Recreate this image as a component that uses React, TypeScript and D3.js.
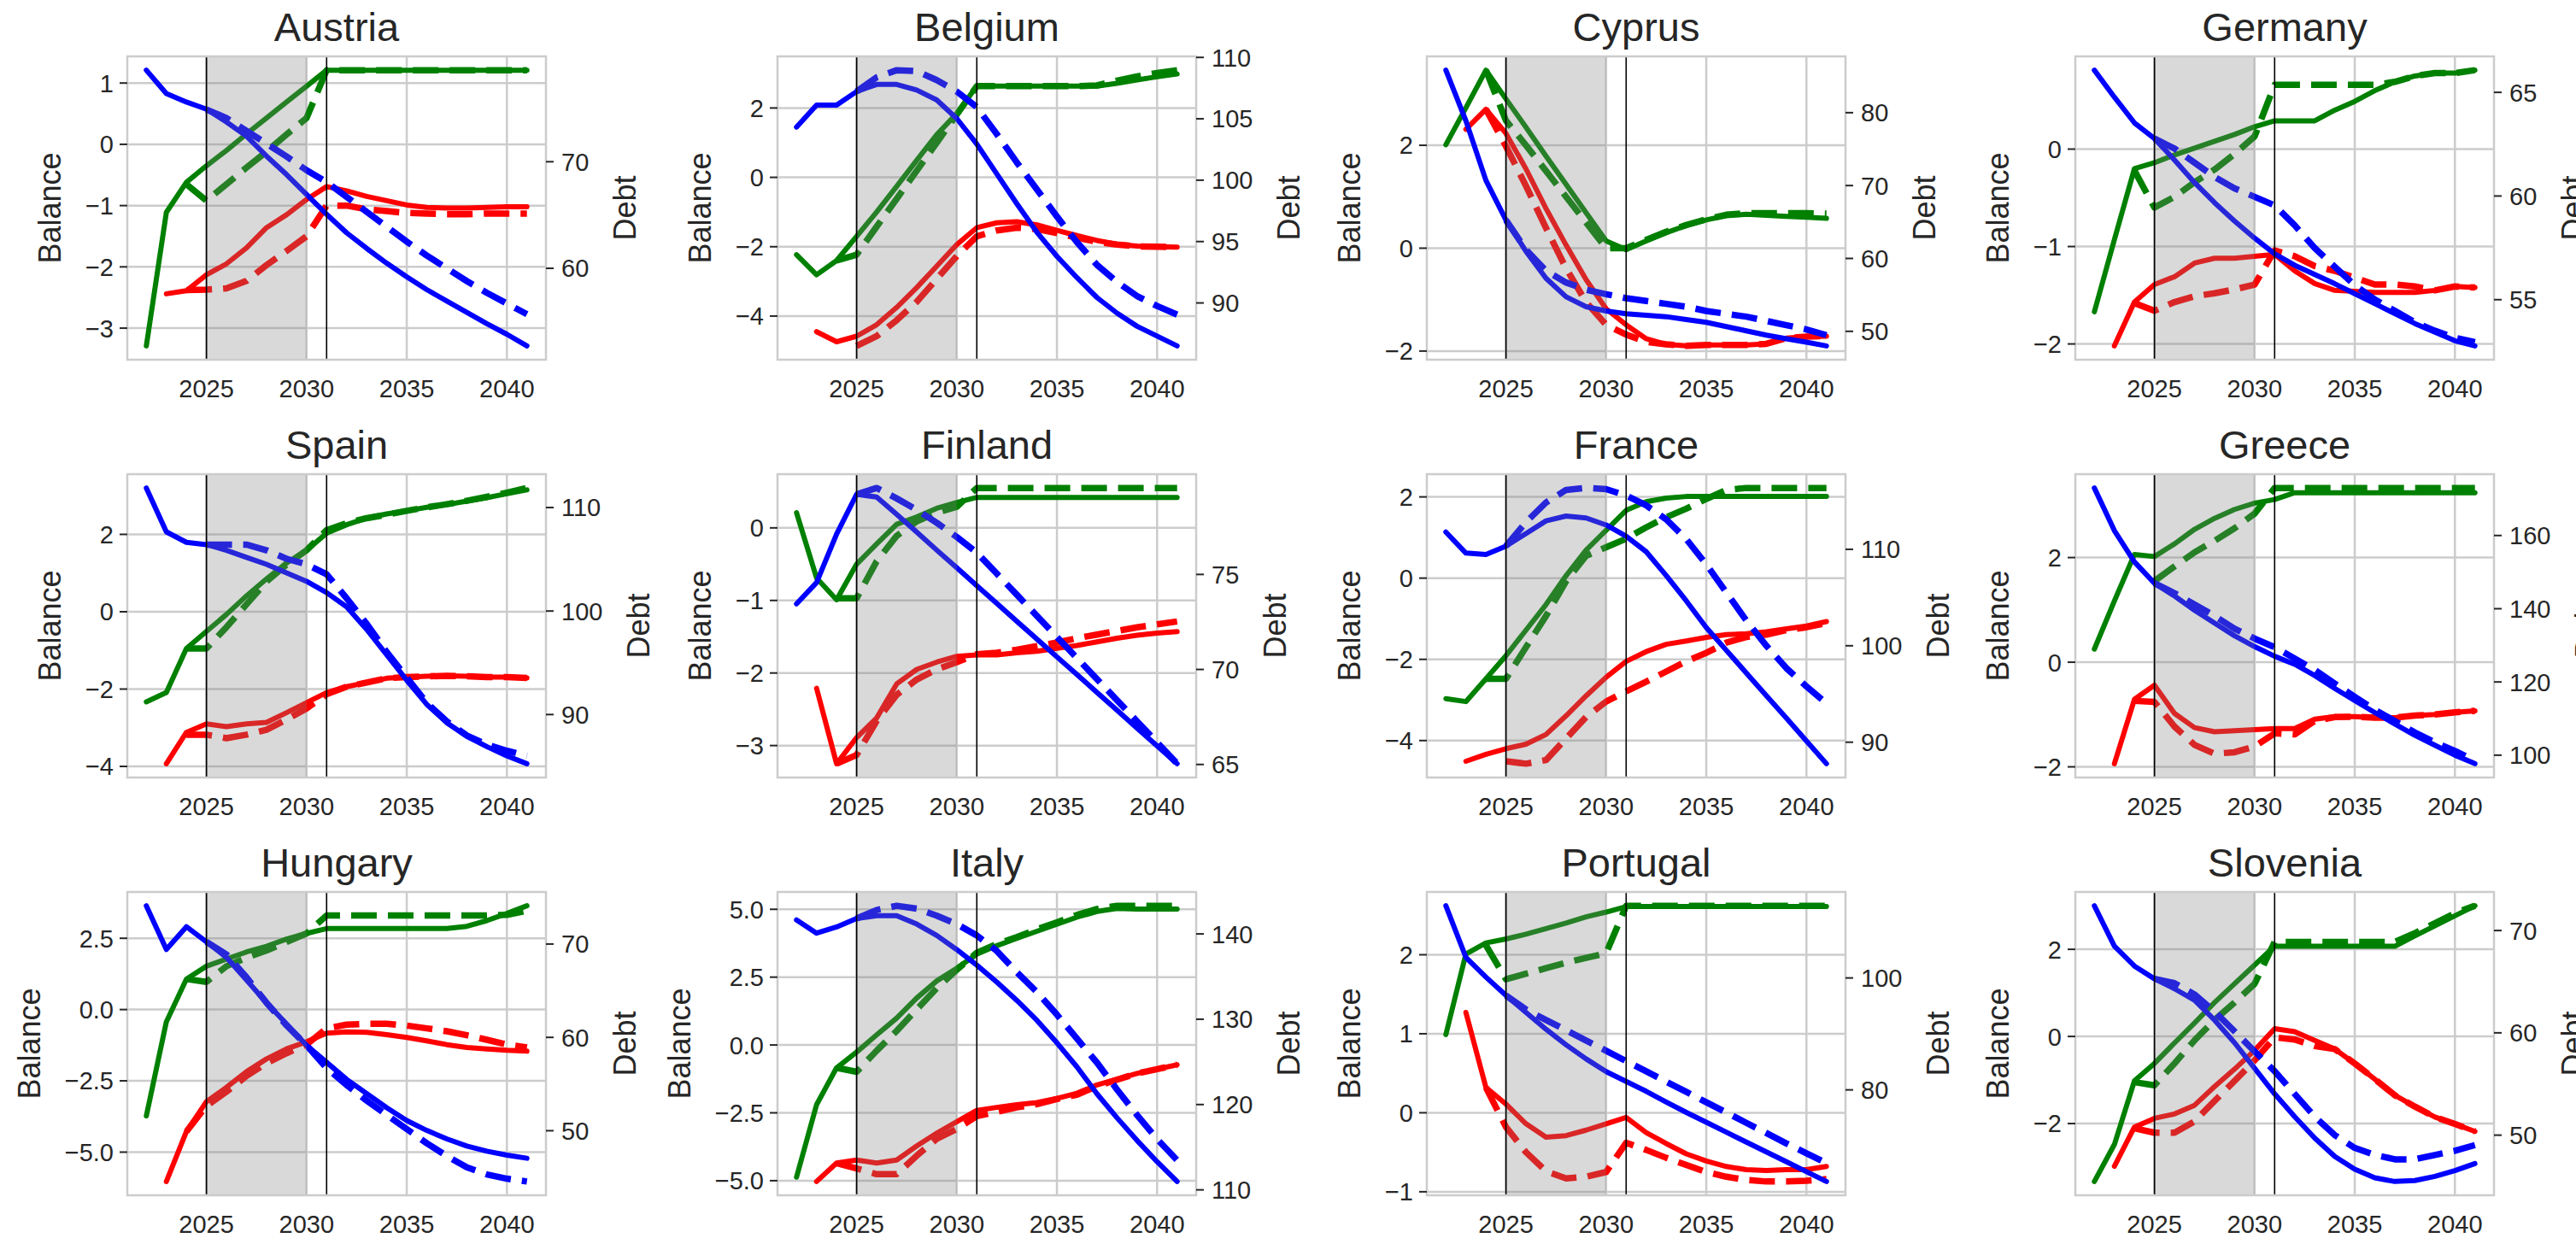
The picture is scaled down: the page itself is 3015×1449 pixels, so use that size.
import * as d3 from "d3";

// years on the x axis
const YEARS = [2022, 2023, 2024, 2025, 2026, 2027, 2028, 2029, 2030, 2031, 2032, 2033, 2034, 2035, 2036, 2037, 2038, 2039, 2040, 2041];
const X_TICKS = [2025, 2030, 2035, 2040];
const SHADE = [2025, 2030];
const MARKERS = [2025, 2031];

const COUNTRIES = ["Austria", "Belgium", "Cyprus", "Germany", "Spain", "Finland", "France", "Greece", "Hungary", "Italy", "Portugal", "Slovenia"];

const LEFT_TICKS = [
  [-3, -2, -1, 0, 1], [-4, -2, 0, 2], [-2, 0, 2], [-2, -1, 0],
  [-4, -2, 0, 2], [-3, -2, -1, 0], [-4, -2, 0, 2], [-2, 0, 2],
  [-5, -2.5, 0, 2.5], [-5, -2.5, 0, 2.5, 5], [-1, 0, 1, 2], [-2, 0, 2],
];
const LEFT_DECIMALS = [0, 0, 0, 0, 0, 0, 0, 0, 1, 1, 0, 0];
const RIGHT_TICKS = [
  [60, 70], [90, 95, 100, 105, 110], [50, 60, 70, 80], [55, 60, 65],
  [90, 100, 110], [65, 70, 75], [90, 100, 110], [100, 120, 140, 160],
  [50, 60, 70], [110, 120, 130, 140], [80, 100], [50, 60, 70],
];

const _ = null;

// Austria
const atPrimary = [-3.29, -1.11, -0.62, -0.35, -0.1, 0.17, 0.43, 0.69, 0.95, 1.21, 1.21, 1.21, 1.21, 1.21, 1.21, 1.21, 1.21, 1.21, 1.21, 1.21];
const atPrimaryAlt = [_, _, -0.65, -0.92, -0.65, -0.38, -0.12, 0.16, 0.43, 1.21, 1.21, 1.21, 1.21, 1.21, 1.21, 1.21, 1.21, 1.21, 1.21, 1.21];
const atBalance = [_, -2.44, -2.39, -2.13, -1.95, -1.69, -1.36, -1.15, -0.9, -0.69, -0.76, -0.85, -0.92, -0.99, -1.03, -1.04, -1.04, -1.03, -1.02, -1.02];
const atBalanceAlt = [_, _, -2.38, -2.37, -2.35, -2.23, -1.97, -1.74, -1.5, -1.0, -1.0, -1.06, -1.09, -1.12, -1.13, -1.14, -1.14, -1.13, -1.13, -1.13];
const atDebt = [78.59, 76.4, 75.6, 74.93, 73.73, 72.4, 70.53, 68.8, 66.93, 65.07, 63.33, 61.87, 60.48, 59.2, 58.0, 56.93, 55.87, 54.8, 53.81, 52.72];
const atDebtAlt = [_, _, _, 74.9, 74.1, 72.9, 71.7, 70.5, 69.2, 68.1, 66.7, 65.3, 63.9, 62.5, 61.2, 60.0, 58.8, 57.7, 56.7, 55.7];

// Belgium
const bePrimary = [-2.23, -2.81, -2.4, -1.7, -1.0, -0.26, 0.49, 1.23, 1.84, 2.63, 2.63, 2.63, 2.63, 2.63, 2.63, 2.63, 2.71, 2.81, 2.9, 2.98];
const bePrimaryAlt = [_, _, -2.4, -2.23, -1.42, -0.62, 0.19, 1.0, 1.81, 2.63, 2.63, 2.63, 2.63, 2.63, 2.63, 2.65, 2.79, 2.91, 3.01, 3.09];
const beBalance = [_, -4.45, -4.74, -4.58, -4.25, -3.75, -3.18, -2.56, -1.94, -1.45, -1.31, -1.28, -1.37, -1.53, -1.68, -1.82, -1.93, -1.98, -2.0, -2.01];
const beBalanceAlt = [_, _, _, -4.86, -4.58, -4.12, -3.59, -2.93, -2.27, -1.7, -1.53, -1.45, -1.49, -1.61, -1.74, -1.86, -1.94, -1.99, -2.0, -2.01];
const beDebt = [104.33, 106.11, 106.11, 107.22, 107.8, 107.8, 107.34, 106.53, 105.02, 102.94, 100.51, 98.08, 95.76, 93.8, 92.06, 90.44, 89.17, 88.1, 87.3, 86.5];
const beDebtAlt = [_, _, _, 107.22, 108.38, 108.96, 108.89, 108.15, 107.22, 105.95, 103.75, 101.44, 99.24, 97.04, 94.95, 93.1, 91.71, 90.56, 89.75, 89.05];

// Cyprus
const cyPrimary = [2.01, 2.73, 3.46, 2.9, 2.35, 1.79, 1.24, 0.69, 0.14, -0.03, 0.14, 0.3, 0.44, 0.55, 0.63, 0.66, 0.64, 0.62, 0.6, 0.58];
const cyPrimaryAlt = [_, _, 3.46, 2.48, 2.0, 1.5, 1.0, 0.5, 0.0, 0.0, 0.16, 0.32, 0.45, 0.56, 0.65, 0.68, 0.68, 0.68, 0.68, 0.67];
const cyBalance = [_, 2.31, 2.7, 2.23, 1.54, 0.77, 0.06, -0.61, -1.18, -1.49, -1.76, -1.87, -1.9, -1.88, -1.88, -1.88, -1.86, -1.75, -1.72, -1.71];
const cyBalanceAlt = [_, _, 2.7, 1.98, 1.21, 0.39, -0.39, -1.05, -1.49, -1.68, -1.82, -1.87, -1.9, -1.88, -1.88, -1.88, -1.86, -1.75, -1.72, -1.71];
const cyDebt = [85.83, 78.89, 70.71, 65.26, 60.97, 57.27, 54.74, 53.38, 52.79, 52.4, 52.21, 52.01, 51.62, 51.23, 50.65, 50.07, 49.48, 48.98, 48.51, 48.0];
const cyDebtAlt = [_, _, _, 65.26, 61.2, 58.3, 56.7, 55.7, 55.1, 54.55, 54.16, 53.77, 53.38, 52.79, 52.4, 52.01, 51.43, 50.85, 50.26, 49.48];

// Germany
const dePrimary = [-1.67, -0.93, -0.2, -0.14, -0.06, 0.01, 0.08, 0.15, 0.23, 0.29, 0.29, 0.29, 0.4, 0.49, 0.6, 0.69, 0.75, 0.78, 0.78, 0.81];
const dePrimaryAlt = [_, _, -0.22, -0.6, -0.49, -0.34, -0.21, -0.05, 0.13, 0.66, 0.66, 0.66, 0.66, 0.66, 0.66, 0.69, 0.75, 0.78, 0.78, 0.81];
const deBalance = [_, -2.02, -1.57, -1.39, -1.31, -1.17, -1.12, -1.12, -1.1, -1.08, -1.25, -1.38, -1.45, -1.46, -1.47, -1.47, -1.47, -1.45, -1.41, -1.42];
const deBalanceAlt = [_, _, -1.58, -1.66, -1.57, -1.51, -1.48, -1.44, -1.39, -1.04, -1.1, -1.2, -1.25, -1.32, -1.39, -1.39, -1.41, -1.45, -1.41, -1.42];
const deDebt = [66.07, 64.77, 63.53, 62.77, 61.74, 60.65, 59.68, 58.79, 57.97, 57.21, 56.66, 56.22, 55.77, 55.29, 54.81, 54.33, 53.85, 53.43, 53.02, 52.77];
const deDebtAlt = [_, _, _, 62.77, 62.29, 61.61, 60.92, 60.37, 59.96, 59.55, 58.59, 57.49, 56.59, 55.7, 55.01, 54.46, 53.91, 53.5, 53.16, 52.95];

// Spain
const esPrimary = [-2.33, -2.09, -0.95, -0.51, -0.07, 0.41, 0.85, 1.26, 1.59, 2.03, 2.25, 2.42, 2.53, 2.61, 2.7, 2.77, 2.86, 2.95, 3.05, 3.15];
const esPrimaryAlt = [_, _, -0.95, -0.95, -0.4, 0.19, 0.78, 1.22, 1.59, 2.11, 2.29, 2.42, 2.51, 2.61, 2.7, 2.78, 2.87, 2.97, 3.08, 3.2];
const esBalance = [_, -3.93, -3.12, -2.9, -2.97, -2.9, -2.86, -2.61, -2.35, -2.09, -1.94, -1.83, -1.72, -1.69, -1.67, -1.66, -1.67, -1.69, -1.69, -1.71];
const esBalanceAlt = [_, _, -3.18, -3.18, -3.27, -3.18, -3.05, -2.79, -2.5, -2.13, -1.94, -1.83, -1.72, -1.69, -1.67, -1.66, -1.67, -1.69, -1.69, -1.71];
const esDebt = [111.89, 107.65, 106.64, 106.42, 105.87, 105.19, 104.51, 103.69, 102.87, 101.78, 100.41, 98.22, 95.77, 93.31, 90.98, 89.21, 87.9, 86.9, 86.0, 85.25];
const esDebtAlt = [_, _, _, 106.42, 106.42, 106.42, 105.87, 105.05, 104.51, 103.55, 101.23, 98.77, 96.04, 93.58, 91.12, 89.34, 87.98, 87.1, 86.5, 86.0];

// Finland
const fiPrimary = [0.21, -0.69, -0.99, -0.5, -0.22, 0.05, 0.15, 0.27, 0.35, 0.42, 0.42, 0.42, 0.42, 0.42, 0.42, 0.42, 0.42, 0.42, 0.42, 0.42];
const fiPrimaryAlt = [_, _, -0.97, -0.97, -0.46, -0.11, 0.09, 0.21, 0.29, 0.55, 0.55, 0.55, 0.55, 0.55, 0.55, 0.55, 0.55, 0.55, 0.55, 0.55];
const fiBalance = [_, -2.21, -3.25, -2.89, -2.62, -2.15, -1.95, -1.85, -1.77, -1.75, -1.75, -1.72, -1.7, -1.66, -1.62, -1.57, -1.52, -1.48, -1.45, -1.43];
const fiBalanceAlt = [_, _, -3.25, -3.13, -2.66, -2.3, -2.09, -1.95, -1.85, -1.74, -1.72, -1.68, -1.63, -1.58, -1.52, -1.47, -1.42, -1.37, -1.33, -1.29];
const fiDebt = [73.45, 74.57, 77.12, 79.22, 79.07, 78.16, 77.23, 76.28, 75.35, 74.41, 73.48, 72.53, 71.6, 70.66, 69.73, 68.79, 67.86, 66.91, 65.98, 65.04];
const fiDebtAlt = [_, _, _, 79.22, 79.55, 79.0, 78.4, 77.72, 76.97, 76.15, 75.04, 73.93, 72.82, 71.71, 70.6, 69.49, 68.38, 67.27, 66.16, 65.05];

// France
const frPrimary = [-2.97, -3.04, -2.48, -1.91, -1.28, -0.65, 0.06, 0.69, 1.18, 1.67, 1.88, 1.97, 2.01, 2.01, 2.01, 2.01, 2.01, 2.01, 2.01, 2.01];
const frPrimaryAlt = [_, _, -2.48, -2.48, -1.7, -0.93, -0.08, 0.55, 0.76, 0.97, 1.25, 1.5, 1.71, 1.95, 2.17, 2.22, 2.22, 2.22, 2.22, 2.22];
const frBalance = [_, -4.51, -4.34, -4.2, -4.09, -3.85, -3.39, -2.9, -2.44, -2.05, -1.81, -1.63, -1.55, -1.46, -1.39, -1.37, -1.32, -1.25, -1.18, -1.07];
const frBalanceAlt = [_, _, _, -4.51, -4.57, -4.48, -3.95, -3.42, -3.04, -2.79, -2.55, -2.3, -2.05, -1.84, -1.59, -1.45, -1.39, -1.28, -1.21, -1.11];
const frDebt = [111.79, 109.61, 109.46, 110.33, 111.64, 112.95, 113.45, 113.25, 112.52, 111.35, 109.75, 107.28, 104.66, 101.89, 99.53, 97.18, 94.82, 92.49, 90.13, 87.77];
const frDebtAlt = [_, _, _, 110.33, 112.81, 114.85, 116.16, 116.36, 116.24, 115.57, 114.56, 113.1, 111.06, 108.44, 105.53, 102.62, 100.0, 97.67, 95.78, 94.03];

// Greece
const grPrimary = [0.25, 1.17, 2.06, 2.02, 2.26, 2.54, 2.75, 2.92, 3.04, 3.11, 3.24, 3.24, 3.24, 3.24, 3.24, 3.24, 3.24, 3.24, 3.24, 3.24];
const grPrimaryAlt = [_, _, _, 1.55, 1.83, 2.1, 2.32, 2.56, 2.84, 3.33, 3.33, 3.33, 3.33, 3.33, 3.33, 3.33, 3.33, 3.33, 3.33, 3.33];
const grBalance = [_, -1.94, -0.71, -0.44, -0.98, -1.25, -1.33, -1.31, -1.29, -1.27, -1.27, -1.09, -1.04, -1.04, -1.06, -1.06, -1.02, -1.0, -0.96, -0.93];
const grBalanceAlt = [_, _, -0.74, -0.76, -1.23, -1.58, -1.75, -1.72, -1.61, -1.36, -1.38, -1.12, -1.05, -1.04, -1.06, -1.06, -1.02, -1.0, -0.96, -0.93];
const grDebt = [172.98, 161.34, 152.8, 146.97, 143.48, 139.6, 136.1, 132.61, 129.66, 127.02, 124.84, 121.74, 118.25, 114.91, 111.65, 108.54, 105.43, 102.72, 100.0, 97.67];
const grDebtAlt = [_, _, _, 146.97, 144.25, 141.15, 138.04, 134.55, 131.83, 129.5, 126.4, 123.29, 119.57, 115.92, 112.42, 109.32, 106.21, 103.49, 101.16, 98.45];

// Hungary
const huPrimary = [-3.73, -0.43, 1.07, 1.52, 1.77, 2.02, 2.22, 2.47, 2.67, 2.84, 2.84, 2.84, 2.84, 2.84, 2.84, 2.84, 2.92, 3.12, 3.37, 3.64];
const huPrimaryAlt = [_, _, 1.07, 0.97, 1.52, 1.82, 2.07, 2.37, 2.67, 3.3, 3.3, 3.3, 3.3, 3.3, 3.3, 3.3, 3.3, 3.3, 3.32, 3.47];
const huBalance = [_, -6.03, -4.28, -3.23, -2.73, -2.18, -1.73, -1.38, -1.13, -0.83, -0.78, -0.8, -0.88, -0.98, -1.1, -1.23, -1.33, -1.38, -1.43, -1.46];
const huBalanceAlt = [_, _, -4.28, -3.38, -2.88, -2.33, -1.88, -1.53, -1.23, -0.66, -0.53, -0.5, -0.5, -0.56, -0.66, -0.76, -0.9, -1.06, -1.23, -1.33];
const huDebt = [74.1, 69.42, 71.85, 70.24, 68.57, 66.14, 63.71, 61.43, 59.15, 57.33, 55.5, 53.98, 52.46, 51.09, 50.03, 49.12, 48.36, 47.81, 47.39, 47.05];
const huDebtAlt = [_, _, _, 70.24, 68.88, 66.44, 63.71, 61.28, 59.15, 56.72, 54.89, 53.22, 51.7, 50.18, 48.66, 47.29, 46.08, 45.32, 44.86, 44.56];

// Italy
const itPrimary = [-4.87, -2.2, -0.84, -0.26, 0.37, 0.99, 1.73, 2.36, 2.83, 3.35, 3.66, 3.93, 4.19, 4.45, 4.71, 4.92, 5.03, 5.01, 5.01, 5.01];
const itPrimaryAlt = [_, _, -0.84, -0.99, -0.21, 0.52, 1.31, 2.09, 2.77, 3.4, 3.72, 3.98, 4.26, 4.52, 4.79, 5.01, 5.13, 5.13, 5.13, 5.13];
const itBalance = [_, -5.03, -4.35, -4.24, -4.35, -4.24, -3.72, -3.25, -2.83, -2.41, -2.3, -2.2, -2.12, -1.97, -1.78, -1.47, -1.26, -1.05, -0.89, -0.73];
const itBalanceAlt = [_, _, -4.35, -4.55, -4.76, -4.76, -4.08, -3.46, -3.09, -2.62, -2.46, -2.3, -2.18, -1.99, -1.83, -1.52, -1.28, -1.05, -0.89, -0.73];
const itDebt = [141.64, 140.09, 140.82, 141.81, 142.14, 142.14, 141.15, 139.82, 138.16, 136.34, 134.35, 132.2, 129.88, 127.23, 124.41, 121.26, 118.44, 115.79, 113.3, 110.98];
const itDebtAlt = [_, _, _, 141.81, 142.8, 143.3, 142.97, 142.14, 141.15, 139.82, 138.0, 135.51, 133.19, 130.54, 127.72, 124.91, 121.76, 118.77, 115.96, 113.47];

// Portugal
const ptPrimary = [0.99, 2.01, 2.15, 2.2, 2.26, 2.33, 2.4, 2.48, 2.54, 2.61, 2.61, 2.61, 2.61, 2.61, 2.61, 2.61, 2.61, 2.61, 2.61, 2.61];
const ptPrimaryAlt = [_, _, 2.12, 1.69, 1.76, 1.83, 1.9, 1.96, 2.02, 2.62, 2.62, 2.62, 2.62, 2.62, 2.62, 2.62, 2.62, 2.62, 2.62, 2.62];
const ptBalance = [_, 1.27, 0.32, 0.11, -0.14, -0.31, -0.29, -0.22, -0.14, -0.06, -0.25, -0.39, -0.52, -0.61, -0.68, -0.72, -0.73, -0.72, -0.72, -0.68];
const ptBalanceAlt = [_, _, 0.32, -0.18, -0.5, -0.74, -0.83, -0.81, -0.75, -0.38, -0.47, -0.57, -0.66, -0.75, -0.81, -0.85, -0.87, -0.87, -0.86, -0.84];
const ptDebt = [112.9, 103.68, 100.15, 96.88, 93.85, 90.83, 88.06, 85.54, 83.27, 81.51, 79.75, 77.83, 75.97, 74.21, 72.44, 70.68, 68.92, 67.15, 65.39, 63.63];
const ptDebtAlt = [_, _, _, 96.88, 94.36, 92.49, 90.68, 88.82, 87.0, 85.14, 83.32, 81.46, 79.65, 77.78, 75.97, 74.11, 72.29, 70.43, 68.67, 66.9];

// Slovenia
const siPrimary = [-3.33, -2.48, -1.02, -0.62, -0.15, 0.31, 0.78, 1.21, 1.64, 2.07, 2.07, 2.07, 2.07, 2.07, 2.07, 2.07, 2.31, 2.54, 2.77, 3.0];
const siPrimaryAlt = [_, _, -1.05, -1.12, -0.62, -0.09, 0.38, 0.78, 1.21, 2.17, 2.17, 2.17, 2.17, 2.17, 2.17, 2.17, 2.37, 2.6, 2.83, 3.0];
const siBalance = [_, -2.98, -2.08, -1.88, -1.78, -1.58, -1.15, -0.75, -0.32, 0.18, 0.11, -0.09, -0.29, -0.62, -0.98, -1.35, -1.61, -1.85, -2.01, -2.18];
const siBalanceAlt = [_, _, -2.11, -2.21, -2.21, -1.95, -1.48, -1.02, -0.55, -0.02, -0.07, -0.22, -0.29, -0.62, -0.98, -1.35, -1.61, -1.85, -2.01, -2.18];
const siDebt = [72.42, 68.47, 66.53, 65.28, 64.31, 63.19, 61.25, 59.03, 56.53, 54.03, 51.81, 49.72, 47.92, 46.67, 45.83, 45.47, 45.56, 45.97, 46.53, 47.22];
const siDebtAlt = [_, _, _, 65.28, 64.86, 63.75, 62.08, 60.14, 58.19, 56.25, 54.03, 51.81, 50.0, 48.75, 48.06, 47.64, 47.64, 48.06, 48.47, 49.03];

type Series = (number | null)[];
type PanelData = {
  name: string;
  primary: Series; primaryAlt: Series;
  balance: Series; balanceAlt: Series;
  debt: Series; debtAlt: Series;
  leftTicks: number[]; leftDec: number; rightTicks: number[];
};

const SERIES: Series[][] = [
  [atPrimary, atPrimaryAlt, atBalance, atBalanceAlt, atDebt, atDebtAlt],
  [bePrimary, bePrimaryAlt, beBalance, beBalanceAlt, beDebt, beDebtAlt],
  [cyPrimary, cyPrimaryAlt, cyBalance, cyBalanceAlt, cyDebt, cyDebtAlt],
  [dePrimary, dePrimaryAlt, deBalance, deBalanceAlt, deDebt, deDebtAlt],
  [esPrimary, esPrimaryAlt, esBalance, esBalanceAlt, esDebt, esDebtAlt],
  [fiPrimary, fiPrimaryAlt, fiBalance, fiBalanceAlt, fiDebt, fiDebtAlt],
  [frPrimary, frPrimaryAlt, frBalance, frBalanceAlt, frDebt, frDebtAlt],
  [grPrimary, grPrimaryAlt, grBalance, grBalanceAlt, grDebt, grDebtAlt],
  [huPrimary, huPrimaryAlt, huBalance, huBalanceAlt, huDebt, huDebtAlt],
  [itPrimary, itPrimaryAlt, itBalance, itBalanceAlt, itDebt, itDebtAlt],
  [ptPrimary, ptPrimaryAlt, ptBalance, ptBalanceAlt, ptDebt, ptDebtAlt],
  [siPrimary, siPrimaryAlt, siBalance, siBalanceAlt, siDebt, siDebtAlt],
];

const PANELS: PanelData[] = COUNTRIES.map((name, i) => ({
  name,
  primary: SERIES[i][0], primaryAlt: SERIES[i][1],
  balance: SERIES[i][2], balanceAlt: SERIES[i][3],
  debt: SERIES[i][4], debtAlt: SERIES[i][5],
  leftTicks: LEFT_TICKS[i], leftDec: LEFT_DECIMALS[i], rightTicks: RIGHT_TICKS[i],
}));

const W = 3015, H = 1449;
const COL_X = [149, 910, 1670, 2429];
const ROW_Y = [66, 555, 1044];
const PW = 490, PH = 355;

const FONT = "'Liberation Sans', Arial, Helvetica, sans-serif";
const INK = "#262626";
const GRID = "#cccccc";
const GREEN = "#008000", RED = "#ff0000", BLUE = "#0000ff";
const TICK_FS = 29, LABEL_FS = 36, TITLE_FS = 47;

function padded(vals: number[]): [number, number] {
  const [a, b] = d3.extent(vals) as [number, number];
  const m = (b - a) * 0.05;
  return [a - m, b + m];
}

function fmt(v: number, dec: number) {
  const s = Math.abs(v).toFixed(dec);
  return v < 0 ? "\u2212" + s : s;
}

function textWidth(s: string, size: number) {
  let w = 0;
  for (const ch of s) w += ch === "." ? 0.278 : ch === "\u2212" ? 0.584 : 0.556;
  return w * size;
}

function Panel({ p, x0, y0 }: { p: PanelData; x0: number; y0: number }) {
  const x = d3.scaleLinear().domain(padded(YEARS)).range([x0, x0 + PW]);
  const leftVals = [p.primary, p.primaryAlt, p.balance, p.balanceAlt].flat().filter((v): v is number => v != null);
  const rightVals = [p.debt, p.debtAlt].flat().filter((v): v is number => v != null);
  const yl = d3.scaleLinear().domain(padded(leftVals)).range([y0 + PH, y0]);
  const yr = d3.scaleLinear().domain(padded(rightVals)).range([y0 + PH, y0]);

  const path = (ys: Series, s: d3.ScaleLinear<number, number>) =>
    d3.line<number | null>()
      .defined((v) => v != null)
      .x((_v, i) => x(YEARS[i]))
      .y((v) => s(v as number))(ys) || "";

  const leftLabels = p.leftTicks.map((t) => fmt(t, p.leftDec));
  const rightLabels = p.rightTicks.map((t) => fmt(t, 0));
  const maxL = d3.max(leftLabels, (s) => textWidth(s, TICK_FS)) || 0;
  const maxR = d3.max(rightLabels, (s) => textWidth(s, TICK_FS)) || 0;
  const balX = x0 - 16 - maxL - 42;
  const debtX = x0 + PW + 18 + maxR + 42;
  const midY = y0 + PH / 2;

  const solid = { fill: "none", strokeWidth: 6, strokeLinecap: "round" as const, strokeLinejoin: "round" as const };
  const dashed = { fill: "none", strokeWidth: 7.5, strokeDasharray: "30 13", strokeLinejoin: "round" as const };

  return (
    <g>
      {/* grid */}
      {p.leftTicks.map((t) => (
        <line key={"gy" + t} x1={x0} x2={x0 + PW} y1={yl(t)} y2={yl(t)} stroke={GRID} strokeWidth={2.5} />
      ))}
      {X_TICKS.map((t) => (
        <line key={"gx" + t} x1={x(t)} x2={x(t)} y1={y0} y2={y0 + PH} stroke={GRID} strokeWidth={2.5} />
      ))}

      {/* balance lines (left axis) */}
      <path d={path(p.primary, yl)} stroke={GREEN} {...solid} />
      <path d={path(p.primaryAlt, yl)} stroke={GREEN} {...dashed} />
      <path d={path(p.balance, yl)} stroke={RED} {...solid} />
      <path d={path(p.balanceAlt, yl)} stroke={RED} {...dashed} />
      {/* debt lines (right axis) */}
      <path d={path(p.debt, yr)} stroke={BLUE} {...solid} />
      <path d={path(p.debtAlt, yr)} stroke={BLUE} {...dashed} />

      {/* adjustment period */}
      <rect x={x(SHADE[0])} y={y0} width={x(SHADE[1]) - x(SHADE[0])} height={PH} fill="#808080" fillOpacity={0.3} />
      {MARKERS.map((m) => (
        <line key={"m" + m} x1={x(m)} x2={x(m)} y1={y0} y2={y0 + PH} stroke="#000" strokeWidth={1.6} />
      ))}

      {/* frame */}
      <rect x={x0} y={y0} width={PW} height={PH} fill="none" stroke={GRID} strokeWidth={2.5} />

      {/* left axis */}
      {p.leftTicks.map((t, i) => (
        <g key={"lt" + t}>
          <line x1={x0 - 9} x2={x0} y1={yl(t)} y2={yl(t)} stroke={INK} strokeWidth={2} />
          <text x={x0 - 16} y={yl(t)} dy="0.36em" textAnchor="end" fontSize={TICK_FS} fill={INK}>{leftLabels[i]}</text>
        </g>
      ))}
      {/* right axis */}
      {p.rightTicks.map((t, i) => (
        <g key={"rt" + t}>
          <line x1={x0 + PW} x2={x0 + PW + 9} y1={yr(t)} y2={yr(t)} stroke={INK} strokeWidth={2} />
          <text x={x0 + PW + 18} y={yr(t)} dy="0.36em" textAnchor="start" fontSize={TICK_FS} fill={INK}>{rightLabels[i]}</text>
        </g>
      ))}
      {/* x axis */}
      {X_TICKS.map((t) => (
        <text key={"xt" + t} x={x(t)} y={y0 + PH + 44} textAnchor="middle" fontSize={TICK_FS} fill={INK}>{t}</text>
      ))}

      <text transform={`translate(${balX},${midY}) rotate(-90)`} textAnchor="middle" dy="0.36em" fontSize={LABEL_FS} fill={INK}>Balance</text>
      <text transform={`translate(${debtX},${midY}) rotate(-90)`} textAnchor="middle" dy="0.36em" fontSize={LABEL_FS} fill={INK}>Debt</text>
      <text x={x0 + PW / 2} y={y0 - 18} textAnchor="middle" fontSize={TITLE_FS} fill={INK}>{p.name}</text>
    </g>
  );
}

export default function App() {
  return (
    <div style={{ position: "absolute", left: 0, top: 0, width: W, height: H, overflow: "hidden" }}>
      <svg width={W} height={H} viewBox={`0 0 ${W} ${H}`} style={{ display: "block", background: "#fff" }} fontFamily={FONT}>
        <rect width={W} height={H} fill="#fff" />
        {PANELS.map((p, i) => (
          <Panel key={p.name} p={p} x0={COL_X[i % 4]} y0={ROW_Y[Math.floor(i / 4)]} />
        ))}
      </svg>
    </div>
  );
}
